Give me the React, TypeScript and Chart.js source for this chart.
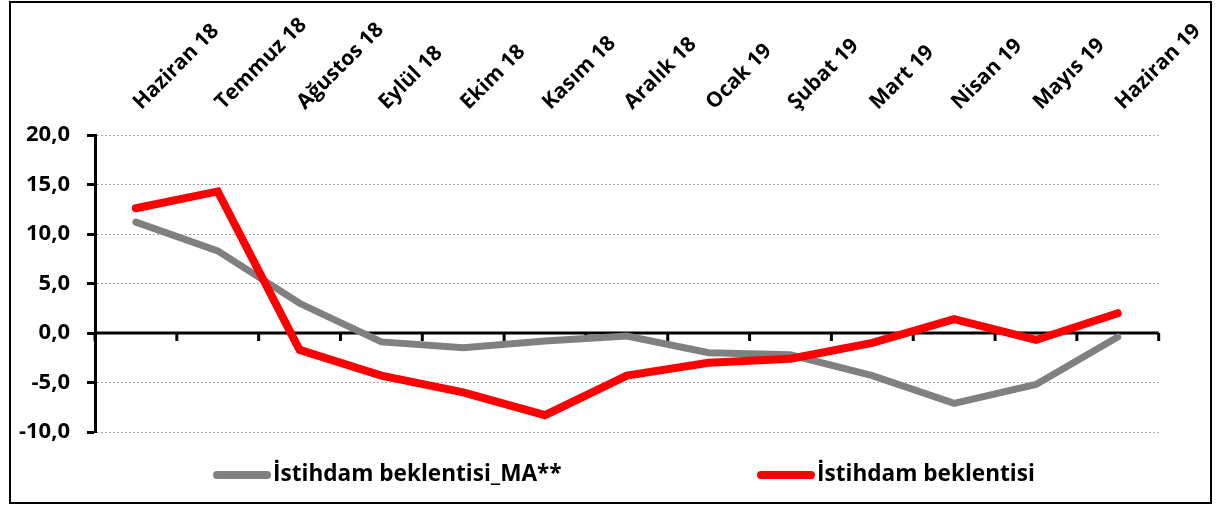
import React, { useEffect, useRef } from "react";
import { Chart, registerables } from "chart.js";

Chart.register(...registerables);

const categories = [
  "Haziran 18", "Temmuz 18", "Ağustos 18", "Eylül 18", "Ekim 18", "Kasım 18",
  "Aralık 18", "Ocak 19", "Şubat 19", "Mart 19", "Nisan 19", "Mayıs 19", "Haziran 19",
];
const maLabel = "İstihdam beklentisi_MA**";
const maValues = [11.2, 8.3, 3.0, -0.9, -1.5, -0.8, -0.3, -2.0, -2.2, -4.3, -7.1, -5.2, -0.4];
const expLabel = "İstihdam beklentisi";
const expValues = [12.6, 14.3, -1.7, -4.3, -6.0, -8.3, -4.3, -3.0, -2.6, -1.0, 1.4, -0.7, 2.0];
const yMin = -10;
const yMax = 20;
const yStep = 5;

const FONT = "'Open Sans', sans-serif";

const zeroAxisPlugin = {
  id: "zeroAxis",
  beforeDatasetsDraw(chart: any) {
    const { ctx, chartArea, scales } = chart;
    const x = scales.x;
    const y = scales.y;
    const y0 = y.getPixelForValue(0);
    const step = x.getPixelForValue(1) - x.getPixelForValue(0);
    ctx.save();
    ctx.strokeStyle = "#000";
    ctx.lineWidth = 3;
    ctx.beginPath();
    ctx.moveTo(chartArea.left, y0);
    ctx.lineTo(chartArea.right, y0);
    ctx.stroke();
    for (let i = 0; i <= categories.length; i++) {
      const px = x.getPixelForValue(0) - step / 2 + i * step;
      ctx.beginPath();
      ctx.moveTo(px, y0);
      ctx.lineTo(px, y0 + 8);
      ctx.stroke();
    }
    ctx.restore();
  },
};

const legendPlugin = {
  id: "customLegend",
  afterDraw(chart: any) {
    const { ctx } = chart;
    const items = [
      { ds: chart.data.datasets[1], x: 202 },
      { ds: chart.data.datasets[0], x: 746 },
    ];
    const yMid = 472;
    ctx.save();
    for (const it of items) {
      ctx.strokeStyle = it.ds.borderColor;
      ctx.lineWidth = 8;
      ctx.lineCap = "round";
      ctx.beginPath();
      ctx.moveTo(it.x + 4, yMid);
      ctx.lineTo(it.x + 54, yMid);
      ctx.stroke();
      ctx.fillStyle = "#000";
      ctx.font = `bold 22.6px ${FONT}`;
      ctx.textBaseline = "middle";
      ctx.textAlign = "left";
      ctx.fillText(it.ds.label, it.x + 60, yMid);
    }
    ctx.restore();
  },
};

export default function App() {
  const ref = useRef<HTMLCanvasElement>(null);
  useEffect(() => {
    if (!ref.current) return;
    const chart = new Chart(ref.current, {
      type: "line",
      data: {
        labels: categories,
        datasets: [
          {
            label: expLabel,
            data: expValues,
            borderColor: "#ff0000",
            backgroundColor: "#ff0000",
            borderWidth: 8,
            pointRadius: 0,
            tension: 0,
            borderCapStyle: "round",
            order: 1,
          },
          {
            label: maLabel,
            data: maValues,
            borderColor: "#808080",
            backgroundColor: "#808080",
            borderWidth: 7,
            pointRadius: 0,
            tension: 0,
            borderCapStyle: "round",
            order: 2,
          },
        ],
      },
      options: {
        responsive: false,
        animation: false,
        layout: { padding: { left: 0, right: 47, top: 0, bottom: 70 } },
        plugins: {
          legend: { display: false },
          tooltip: { enabled: false },
        },
        scales: {
          x: {
            type: "category",
            position: "top",
            offset: true,
            grid: { display: false },
            border: { display: false },
            ticks: {
              autoSkip: false,
              minRotation: 45,
              maxRotation: 45,
              padding: 12,
              labelOffset: 19,
              color: "#000",
              font: { family: FONT, size: 21, weight: "bold" },
            },
            afterFit: (scale: any) => {
              scale.height = 132;
            },
          },
          y: {
            min: yMin,
            max: yMax,
            ticks: {
              stepSize: yStep,
              padding: 17,
              color: "#000",
              font: { family: FONT, size: 22, weight: "bold" },
              callback: (v: any) => Number(v).toFixed(1).replace(".", ","),
            },
            grid: {
              color: "#a6a6a6",
              lineWidth: 1,
              tickColor: "#000",
              tickWidth: 3,
              tickLength: 8,
              tickBorderDash: [],
            },
            border: { display: true, color: "#000", width: 3, dash: [2, 2] },
            afterFit: (scale: any) => {
              scale.width = 84;
            },
          },
        },
      },
      plugins: [zeroAxisPlugin, legendPlugin],
    });
    return () => chart.destroy();
  }, []);
  return (
    <div
      style={{
        position: "absolute",
        left: 9,
        top: 1,
        width: 1203,
        height: 503,
        border: "2px solid #000",
        boxSizing: "border-box",
        background: "#fff",
      }}
    >
      <canvas ref={ref} width={1199} height={499} style={{ display: "block" }} />
    </div>
  );
}
